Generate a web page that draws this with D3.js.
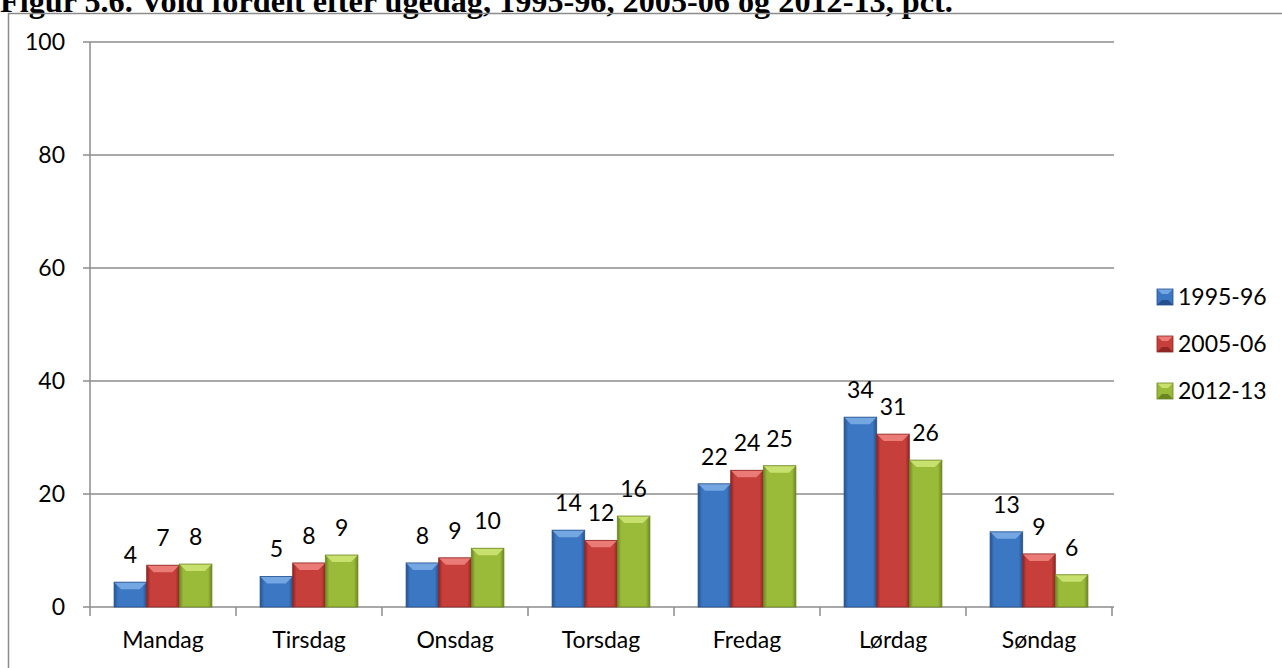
<!DOCTYPE html>
<html>
<head>
<meta charset="utf-8">
<script src="https://cdn.jsdelivr.net/npm/d3@7"></script>
<style>
  html, body { margin: 0; padding: 0; background: #fff; }
  svg { display: block; }
  .tick-label, .cat-label, .val-label, .legend-label { font-family: Lato, "Open Sans", sans-serif; fill: #000; }
</style>
</head>
<body>
<div id="chart"></div>
<script>
// chart data
const categories = ["Mandag", "Tirsdag", "Onsdag", "Torsdag", "Fredag", "Lørdag", "Søndag"];
const seriesNames = ["1995-96", "2005-06", "2012-13"];
const values1995 = [4.4, 5.4, 7.8, 13.6, 21.8, 33.6, 13.3];
const values2005 = [7.4, 7.8, 8.7, 11.8, 24.2, 30.6, 9.4];
const values2012 = [7.6, 9.2, 10.4, 16.1, 25.0, 26.0, 5.7];
const yTicks = [0, 20, 40, 60, 80, 100];
const titleText = "Figur 5.6. Vold fordelt efter ugedag, 1995-96, 2005-06 og 2012-13, pct.";

const seriesValues = [values1995, values2005, values2012];

// colours: main, light, dark
const palette = [
    { main: "#3b77c2", light: "#74a6e2", dark: "#24518e" },
    { main: "#c73f3b", light: "#ea7b77", dark: "#8f2623" },
    { main: "#9aba3a", light: "#c8e06e", dark: "#6b8522" }
];

const W = 1282, H = 668;
const plot = { left: 90, right: 1112, top: 42, bottom: 607 };
const fontSize = "23px";

const svg = d3.select("#chart").append("svg")
    .attr("width", W)
    .attr("height", H);

// gradients for the bars
const defs = svg.append("defs");
palette.forEach((c, i) => {
    const g = defs.append("linearGradient")
        .attr("id", "grad" + i)
        .attr("x1", "0").attr("x2", "1").attr("y1", "0").attr("y2", "0");
    g.append("stop").attr("offset", "0%").attr("stop-color", c.dark);
    g.append("stop").attr("offset", "12%").attr("stop-color", c.main);
    g.append("stop").attr("offset", "88%").attr("stop-color", c.main);
    g.append("stop").attr("offset", "100%").attr("stop-color", c.dark);
});

// title (its top is cut off in the original too)
const title = svg.append("text")
    .attr("x", 0)
    .attr("y", 12)
    .style("font-family", "'Liberation Serif', 'Times New Roman', serif")
    .style("font-weight", "bold")
    .style("font-size", "24px")
    .text(titleText);
const tw = title.node().getComputedTextLength();
title.style("font-size", (24 * 953 / tw).toFixed(2) + "px");

// outer frame
svg.append("path")
    .attr("d", `M8.5,${H} L8.5,13.5 L${W},13.5`)
    .attr("fill", "none")
    .attr("stroke", "#8c8c8c")
    .attr("stroke-width", 1.5);

// scales
const x0 = d3.scaleBand().domain(categories).range([plot.left, plot.right]);
const bw = x0.bandwidth();
const x1 = d3.scaleBand().domain(seriesNames).range([bw * 0.165, bw * 0.835]);
const y = d3.scaleLinear().domain([0, 100]).range([plot.bottom, plot.top]);

// gridlines
svg.append("g")
    .selectAll("line")
    .data(yTicks)
    .enter()
    .append("line")
    .attr("x1", plot.left - 7)
    .attr("x2", plot.right + 2)
    .attr("y1", d => y(d))
    .attr("y2", d => y(d))
    .attr("stroke", "#8c8c8c")
    .attr("stroke-width", 1.5);

// y axis line
svg.append("line")
    .attr("x1", plot.left).attr("x2", plot.left)
    .attr("y1", plot.top).attr("y2", plot.bottom + 9)
    .attr("stroke", "#8c8c8c")
    .attr("stroke-width", 1.5);

// category ticks
const boundaries = categories.map(c => x0(c) + bw);
svg.append("g")
    .selectAll("line")
    .data(boundaries)
    .enter()
    .append("line")
    .attr("x1", d => d).attr("x2", d => d)
    .attr("y1", plot.bottom).attr("y2", plot.bottom + 9)
    .attr("stroke", "#8c8c8c")
    .attr("stroke-width", 1.5);

// y tick labels
svg.append("g")
    .selectAll("text")
    .data(yTicks)
    .enter()
    .append("text")
    .attr("class", "tick-label")
    .attr("x", 65)
    .attr("y", d => y(d))
    .attr("dy", "0.36em")
    .attr("text-anchor", "end")
    .style("font-size", fontSize)
    .text(d => d);

// category labels
svg.append("g")
    .selectAll("text")
    .data(categories)
    .enter()
    .append("text")
    .attr("class", "cat-label")
    .attr("x", d => x0(d) + bw / 2)
    .attr("y", 648)
    .attr("text-anchor", "middle")
    .style("font-size", fontSize)
    .text(d => d);

// bevelled bar
function drawBar(g, bx, by, w, h, c, i) {
    const b = Math.min(7, h / 2, w / 2);
    g.append("rect")
        .attr("x", bx).attr("y", by)
        .attr("width", w).attr("height", h)
        .attr("fill", `url(#grad${i})`);
    // top bevel
    g.append("polygon")
        .attr("points", `${bx},${by} ${bx + w},${by} ${bx + w - b},${by + b} ${bx + b},${by + b}`)
        .attr("fill", c.light);
    g.append("rect")
        .attr("x", bx).attr("y", by)
        .attr("width", w).attr("height", h)
        .attr("fill", "none")
        .attr("stroke", c.dark)
        .attr("stroke-width", 0.8);
}

const barData = [];
categories.forEach((cat, ci) => {
    seriesNames.forEach((s, si) => {
        barData.push({ cat, series: s, si, value: seriesValues[si][ci] });
    });
});

const bars = svg.append("g");
barData.forEach(d => {
    const bx = x0(d.cat) + x1(d.series);
    const by = y(d.value);
    drawBar(bars, bx, by, x1.bandwidth(), y(0) - by, palette[d.si], d.si);
});

// value labels
svg.append("g")
    .selectAll("text")
    .data(barData)
    .enter()
    .append("text")
    .attr("class", "val-label")
    .attr("x", d => x0(d.cat) + x1(d.series) + x1.bandwidth() / 2)
    .attr("y", d => y(d.value) - 19)
    .attr("text-anchor", "middle")
    .style("font-size", fontSize)
    .text(d => d3.format(".0f")(d.value));

// legend
const legend = svg.append("g");
const legendY = d3.scalePoint().domain(seriesNames).range([297, 391]);
seriesNames.forEach((s, i) => {
    const ly = legendY(s);
    const c = palette[i];
    const sz = 16, lx = 1157, b = 5;
    legend.append("rect")
        .attr("x", lx).attr("y", ly - sz / 2)
        .attr("width", sz).attr("height", sz)
        .attr("fill", c.main);
    legend.append("polygon")
        .attr("points", `${lx},${ly - sz / 2} ${lx + sz},${ly - sz / 2} ${lx + sz - b},${ly - sz / 2 + b} ${lx + b},${ly - sz / 2 + b}`)
        .attr("fill", c.light);
    legend.append("polygon")
        .attr("points", `${lx},${ly + sz / 2} ${lx + sz},${ly + sz / 2} ${lx + sz - b},${ly + sz / 2 - b} ${lx + b},${ly + sz / 2 - b}`)
        .attr("fill", c.dark);
    legend.append("rect")
        .attr("x", lx).attr("y", ly - sz / 2)
        .attr("width", sz).attr("height", sz)
        .attr("fill", "none")
        .attr("stroke", c.dark)
        .attr("stroke-width", 0.8);
    legend.append("text")
        .attr("class", "legend-label")
        .attr("x", 1178)
        .attr("y", ly)
        .attr("dy", "0.36em")
        .style("font-size", fontSize)
        .text(s);
});
</script>
</body>
</html>
